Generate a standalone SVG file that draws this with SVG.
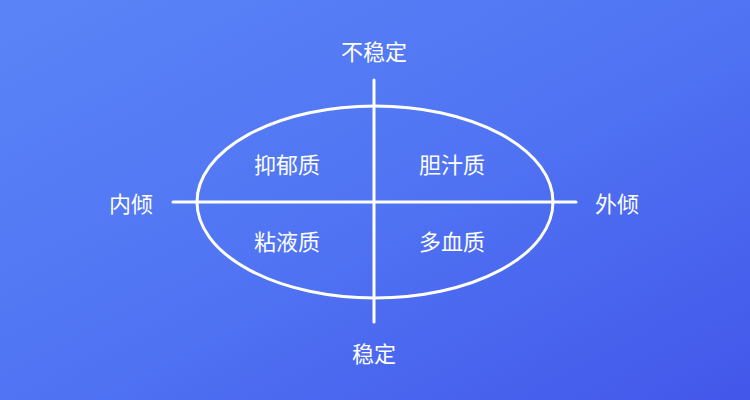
<svg xmlns="http://www.w3.org/2000/svg" width="750" height="400" viewBox="0 0 750 400">
<defs>
<linearGradient id="bg" x1="0" y1="0" x2="1" y2="1">
<stop offset="0" stop-color="#5a84f7"/>
<stop offset="0.5" stop-color="#5074f3"/>
<stop offset="1" stop-color="#4357ea"/>
</linearGradient>
<style>
.ln{stroke:#ffffff;stroke-width:3;fill:none;stroke-linecap:round}
.t{fill:#ffffff;font-family:"Noto Sans CJK SC","Noto Sans",sans-serif;font-size:22px;text-anchor:middle;dominant-baseline:central}
</style>
</defs>
<rect width="750" height="400" fill="url(#bg)"/>
<g id="connectors">
<ellipse class="ln" cx="375" cy="202" rx="178" ry="96"/>
<line class="ln" x1="173" y1="202" x2="576" y2="202"/>
<line class="ln" x1="374" y1="80" x2="374" y2="322"/>
</g>
<g id="top"><text class="t" x="374" y="50">不稳定</text></g>
<g id="bottom"><text class="t" x="374" y="352">稳定</text></g>
<g id="left"><text class="t" x="131" y="202">内倾</text></g>
<g id="right"><text class="t" x="617" y="202">外倾</text></g>
<g id="q1"><text class="t" x="287" y="163">抑郁质</text></g>
<g id="q2"><text class="t" x="452" y="163">胆汁质</text></g>
<g id="q3"><text class="t" x="287" y="240">粘液质</text></g>
<g id="q4"><text class="t" x="452" y="240">多血质</text></g>
</svg>
